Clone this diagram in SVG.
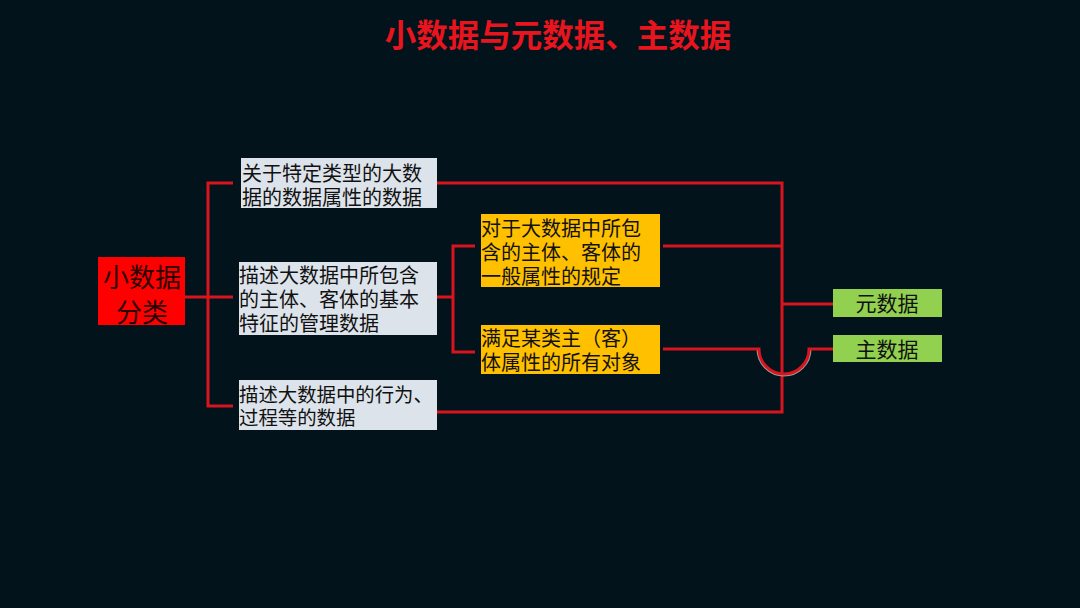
<svg xmlns="http://www.w3.org/2000/svg" width="1080" height="608" viewBox="0 0 1080 608">
<style>
.t{font-family:"Noto Sans CJK SC","Noto Sans",sans-serif;}
.box{font-size:20px;fill:#111;}
.ln{fill:none;stroke:#d8141e;stroke-width:3;}
</style>
<rect width="1080" height="608" fill="#03131b"/>
<text class="t" x="558" y="46.5" text-anchor="middle" font-size="31.5" font-weight="bold" fill="#e8141e">小数据与元数据、主数据</text>
<g id="connectors">
<path class="ln" d="M185 297 H208"/>
<path class="ln" d="M233 183 H208 V406 H233"/>
<path class="ln" d="M208 297 H233"/>
<path class="ln" d="M437 183 H782 V412 H437"/>
<path class="ln" d="M437 297 H453"/>
<path class="ln" d="M475 246 H453 V352 H475"/>
<path class="ln" d="M663 246 H782"/>
<path class="ln" d="M782 304 H834"/>
<path d="M757.5 349 A26.5 26.5 0 0 0 810.5 349" fill="none" stroke="#9a9a9a" stroke-width="2"/>
<path class="ln" d="M663 349 H759 A25 25 0 0 0 809 349 H834"/>
</g>
<g id="node-root">
<rect x="98" y="257" width="87" height="68" fill="#ff0000"/>
<text class="t" text-anchor="middle" font-size="26" fill="#2a0000"><tspan x="142" y="287">小数据</tspan><tspan x="142" y="322">分类</tspan></text>
</g>
<g id="node-b1">
<rect x="241" y="158" width="196" height="50" fill="#dde3ea"/>
<text class="t box"><tspan x="242" y="180.5">关于特定类型的大数</tspan><tspan x="242" y="205">据的数据属性的数据</tspan></text>
</g>
<g id="node-b2">
<rect x="239" y="262" width="198" height="73" fill="#dde3ea"/>
<text class="t box"><tspan x="239" y="282.5">描述大数据中所包含</tspan><tspan x="239" y="307">的主体、客体的基本</tspan><tspan x="239" y="330.5">特征的管理数据</tspan></text>
</g>
<g id="node-b3">
<rect x="239" y="380" width="198" height="50" fill="#dde3ea"/>
<text class="t" font-size="19.4" fill="#111"><tspan x="239" y="402">描述大数据中的行为、</tspan><tspan x="239" y="424.5">过程等的数据</tspan></text>
</g>
<g id="node-y1">
<rect x="481" y="214" width="179" height="73" fill="#ffc000"/>
<text class="t box"><tspan x="481" y="235.5">对于大数据中所包</tspan><tspan x="481" y="259.5">含的主体、客体的</tspan><tspan x="481" y="284">一般属性的规定</tspan></text>
</g>
<g id="node-y2">
<rect x="481" y="325" width="179" height="49" fill="#ffc000"/>
<text class="t box"><tspan x="481" y="345.5">满足某类主（客）</tspan><tspan x="481" y="369.5">体属性的所有对象</tspan></text>
</g>
<g id="node-g1">
<rect x="833" y="289" width="109" height="28" fill="#92d050"/>
<text class="t" x="887" y="311" text-anchor="middle" font-size="21" fill="#111">元数据</text>
</g>
<g id="node-g2">
<rect x="833" y="335" width="109" height="27" fill="#92d050"/>
<text class="t" x="887" y="356.5" text-anchor="middle" font-size="21" fill="#111">主数据</text>
</g>
</svg>
